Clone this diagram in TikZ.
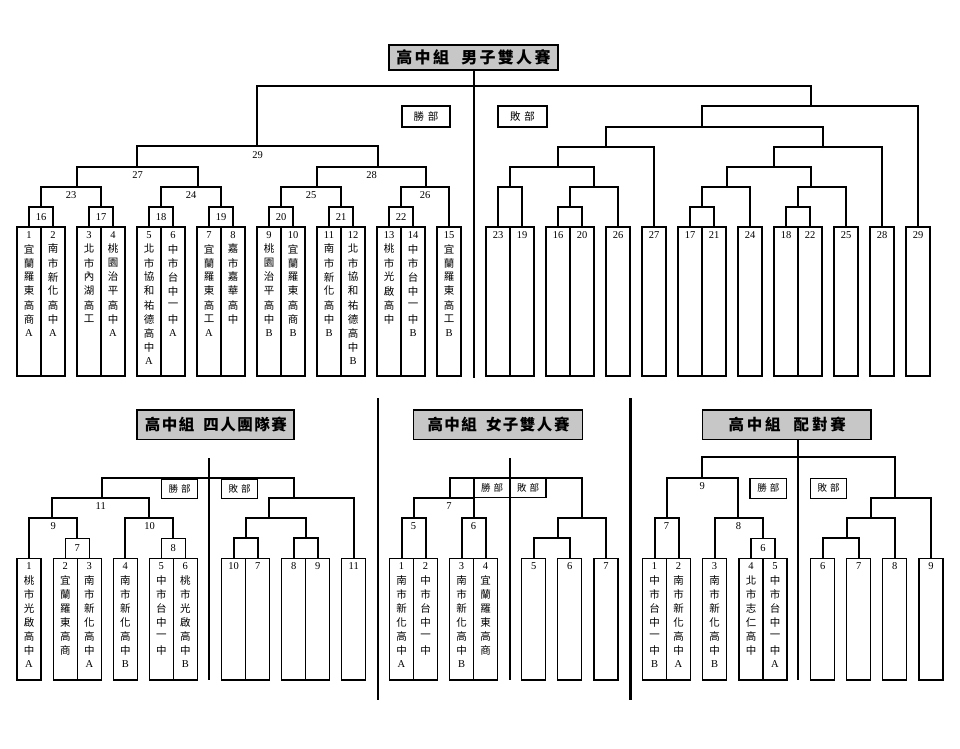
\documentclass[tikz,border=0pt]{standalone}
\usepackage{fontspec}
\setmainfont{Liberation Serif}
\newfontfamily\cjk{Noto Sans CJK TC}
\newcommand\LA{{\rmfamily A}}
\newcommand\LB{{\rmfamily B}}
\tikzset{
  br/.style={line width=2pt},
  sep/.style={line width=2.4pt},
  sbox/.style={line width=1.4pt},
  num/.style={font=\fontsize{10.5}{12}\selectfont, inner sep=0pt},
  vch/.style={font=\cjk\fontsize{10.5}{12}\selectfont, inner sep=0pt},
  ttlbox/.style={draw, line width=1.6pt, fill=black!22},
  ttltext/.style={font=\cjk\bfseries\fontsize{16}{18}\selectfont, inner sep=0pt},
  ttlsmall/.style={font=\cjk\bfseries\fontsize{15.5}{18}\selectfont, inner sep=0pt},
  tagbox/.style={draw, line width=1.4pt},
  tagtext/.style={font=\cjk\fontsize{10.5}{12}\selectfont, inner sep=0pt},
  tagsmall/.style={font=\cjk\fontsize{9.5}{11}\selectfont, inner sep=0pt},
}
\newcommand\seedbox[6]{%
  \draw[sbox] (#2,#3) rectangle (#2+24,#4);
  \node[num] (n#1) at (#2+12,#3+8) {#5};
  \foreach \c [count=\i] in {#6}{\node[vch] (c#1x\i) at (#2+12,#3+8+14*\i) {\c};}
}
\newcommand\lbox[5]{%
  \draw[sbox] (#2,#3) rectangle (#2+24,#4);
  \node[num] (n#1) at (#2+12,#3+8) {#5};
}
\newcommand\matchbox[4]{%
  \draw[sbox] (#2-12,#3) rectangle (#2+12,#3+20);
  \node[num] (m#1) at (#2,#3+10) {#4};
}
\newcommand\kk{\kern2.3pt}
\newcommand\ks{\kern1.5pt}
\newcommand\kp{\kern2.8pt}
\begin{document}
\begin{tikzpicture}[x=1pt,y=-1pt]
\fill[white] (0,0) rectangle (960,748);
\useasboundingbox (0,0) rectangle (960,748);

% ================= TOP: men's doubles =================
\draw[br] (474,70) -- (474,378);
\draw[br] (257,146) -- (257,86) -- (810.7,86) -- (810.7,106);
% winners
\draw[br] (137,167) -- (137,146) -- (378,146) -- (378,167);
\draw[br] (77,187) -- (77,167) -- (198,167) -- (198,187);
\draw[br] (317,187) -- (317,167) -- (426,167) -- (426,187);
\draw[br] (41,207) -- (41,187) -- (101,187) -- (101,207);
\draw[br] (161,207) -- (161,187) -- (221,187) -- (221,207);
\draw[br] (281,207) -- (281,187) -- (341,187) -- (341,207);
\draw[br] (401,207) -- (401,187) -- (449,187) -- (449,227);
\node[num] (l29) at (257.5,155) {29};
\node[num] (l27) at (137.5,175) {27};
\node[num] (l28) at (371.5,175) {28};
\node[num] (l23) at (71,195) {23};
\node[num] (l24) at (191,195) {24};
\node[num] (l25) at (311,195) {25};
\node[num] (l26) at (425,195) {26};
\matchbox{16}{41}{207}{16}
\matchbox{17}{101}{207}{17}
\matchbox{18}{161}{207}{18}
\matchbox{19}{221}{207}{19}
\matchbox{20}{281}{207}{20}
\matchbox{21}{341}{207}{21}
\matchbox{22}{401}{207}{22}
\seedbox{a1}{17}{227}{376}{1}{宜,蘭,羅,東,高,商,\LA}
\seedbox{a2}{41}{227}{376}{2}{南,市,新,化,高,中,\LA}
\seedbox{a3}{77}{227}{376}{3}{北,市,內,湖,高,工}
\seedbox{a4}{101}{227}{376}{4}{桃,園,治,平,高,中,\LA}
\seedbox{a5}{137}{227}{376}{5}{北,市,協,和,祐,德,高,中,\LA}
\seedbox{a6}{161}{227}{376}{6}{中,市,台,中,一,中,\LA}
\seedbox{a7}{197}{227}{376}{7}{宜,蘭,羅,東,高,工,\LA}
\seedbox{a8}{221}{227}{376}{8}{嘉,市,嘉,華,高,中}
\seedbox{a9}{257}{227}{376}{9}{桃,園,治,平,高,中,\LB}
\seedbox{a10}{281}{227}{376}{10}{宜,蘭,羅,東,高,商,\LB}
\seedbox{a11}{317}{227}{376}{11}{南,市,新,化,高,中,\LB}
\seedbox{a12}{341}{227}{376}{12}{北,市,協,和,祐,德,高,中,\LB}
\seedbox{a13}{377}{227}{376}{13}{桃,市,光,啟,高,中}
\seedbox{a14}{401}{227}{376}{14}{中,市,台,中,一,中,\LB}
\seedbox{a15}{437}{227}{376}{15}{宜,蘭,羅,東,高,工,\LB}
% losers
\draw[br] (498,227) -- (498,187) -- (522,187) -- (522,227);
\draw[br] (558,227) -- (558,207) -- (582,207) -- (582,227);
\draw[br] (570,207) -- (570,187) -- (618,187) -- (618,227);
\draw[br] (510,187) -- (510,167) -- (594,167) -- (594,187);
\draw[br] (558,167) -- (558,147) -- (654,147) -- (654,227);
\draw[br] (606,147) -- (606,127) -- (822.7,127) -- (822.7,147);
\draw[br] (690,227) -- (690,207) -- (714,207) -- (714,227);
\draw[br] (702,207) -- (702,187) -- (750,187) -- (750,227);
\draw[br] (786,227) -- (786,207) -- (810,207) -- (810,227);
\draw[br] (798,207) -- (798,187) -- (846,187) -- (846,227);
\draw[br] (726.7,187) -- (726.7,167) -- (810.7,167) -- (810.7,187);
\draw[br] (774.3,167) -- (774.3,147) -- (882,147) -- (882,227);
\draw[br] (702.3,127) -- (702.3,106) -- (918,106) -- (918,227);
\lbox{b23}{486}{227}{376}{23}
\lbox{b19}{510}{227}{376}{19}
\lbox{b16}{546}{227}{376}{16}
\lbox{b20}{570}{227}{376}{20}
\lbox{b26}{606}{227}{376}{26}
\lbox{b27}{642}{227}{376}{27}
\lbox{b17}{678}{227}{376}{17}
\lbox{b21}{702}{227}{376}{21}
\lbox{b24}{738}{227}{376}{24}
\lbox{b18}{774}{227}{376}{18}
\lbox{b22}{798}{227}{376}{22}
\lbox{b25}{834}{227}{376}{25}
\lbox{b28}{870}{227}{376}{28}
\lbox{b29}{906}{227}{376}{29}
% title and tags
\draw[ttlbox] (389,45) rectangle (558,70);
\node[ttltext] (t1) at (473.5,57.5) {高\kk 中\kk 組\hspace{12.3pt}男\kk 子\kk 雙\kk 人\kk 賽};
\draw[tagbox] (402,106) rectangle (450,127);
\node[tagtext] (w1) at (426,116.5) {勝\kern4pt 部};
\draw[tagbox] (498,106) rectangle (547,127);
\node[tagtext] (f1) at (522.5,116.5) {敗\kern4pt 部};

% ================= separators =================
\draw[sep] (378,398) -- (378,700);
\draw[sep] (630.5,398) -- (630.5,700);

% ================= team event =================
\draw[ttlbox] (137,410) rectangle (294,439.3);
\node[ttlsmall] (t2) at (215.8,424.7) {高\ks 中\ks 組\hspace{9pt}四\ks 人\ks 團\ks 隊\ks 賽};
\draw[br] (209.3,458.3) -- (209.3,680);
\draw[br] (29,558.3) -- (29,518.3) -- (77.3,518.3) -- (77.3,538.3);
\draw[br] (125.3,558.3) -- (125.3,518.3) -- (173.3,518.3) -- (173.3,538.3);
\draw[br] (52.3,518.3) -- (52.3,498.3) -- (149,498.3) -- (149,518.3);
\draw[br] (101.7,498.3) -- (101.7,477.7) -- (294,477.7) -- (294,498.3);
\draw[br] (269.3,518.3) -- (269.3,498.3) -- (353.7,498.3) -- (353.7,558.3);
\draw[br] (245.7,538.3) -- (245.7,518.3) -- (305.7,518.3) -- (305.7,538.3);
\draw[br] (233.7,558.3) -- (233.7,538.3) -- (257.7,538.3) -- (257.7,558.3);
\draw[br] (293.7,558.3) -- (293.7,538.3) -- (317.7,538.3) -- (317.7,558.3);
\node[num] (tl9) at (53.3,526.5) {9};
\node[num] (tl10) at (149.5,526.5) {10};
\node[num] (tl11) at (100.7,506.5) {11};
\matchbox{t7}{77.3}{538.3}{7}
\matchbox{t8}{173.3}{538.3}{8}
\seedbox{t1s}{17}{558.3}{680}{1}{桃,市,光,啟,高,中,\LA}
\seedbox{t2s}{53.3}{558.3}{680}{2}{宜,蘭,羅,東,高,商}
\seedbox{t3s}{77.3}{558.3}{680}{3}{南,市,新,化,高,中,\LA}
\seedbox{t4s}{113.3}{558.3}{680}{4}{南,市,新,化,高,中,\LB}
\seedbox{t5s}{149.3}{558.3}{680}{5}{中,市,台,中,一,中}
\seedbox{t6s}{173.3}{558.3}{680}{6}{桃,市,光,啟,高,中,\LB}
\lbox{tb10}{221.7}{558.3}{680}{10}
\lbox{tb7}{245.7}{558.3}{680}{7}
\lbox{tb8}{281.7}{558.3}{680}{8}
\lbox{tb9}{305.7}{558.3}{680}{9}
\lbox{tb11}{341.7}{558.3}{680}{11}
\draw[tagbox] (161.7,479) rectangle (197.7,498.3);
\node[tagsmall] (w2) at (179.7,488.7) {勝\kern3pt 部};
\draw[tagbox] (221.7,479) rectangle (257.7,498.3);
\node[tagsmall] (f2) at (239.7,488.7) {敗\kern3pt 部};

% ================= women's doubles =================
\draw[ttlbox] (413.3,410) rectangle (582.3,439.3);
\node[ttlsmall] (t3) at (498.5,424.7) {高\ks 中\ks 組\hspace{9pt}女\ks 子\ks 雙\ks 人\ks 賽};
\draw[br] (401.5,558.3) -- (401.5,518.3) -- (425.5,518.3) -- (425.5,558.3);
\draw[br] (461.5,558.3) -- (461.5,518.3) -- (485.5,518.3) -- (485.5,558.3);
\draw[br] (413.5,518.3) -- (413.5,498.3) -- (474,498.3) -- (474,518.3);
\draw[br] (450,498.3) -- (450,477.7) -- (581.7,477.7) -- (581.7,518.3);
\draw[br] (558.3,538.3) -- (558.3,518.3) -- (606,518.3) -- (606,558.3);
\draw[br] (533.7,558.3) -- (533.7,538.3) -- (569.7,538.3) -- (569.7,558.3);
\draw[tagbox] (474,477.7) rectangle (546,497.7);
\draw[br] (510,458.3) -- (510,680);
\node[tagsmall] (w3) at (492,487.9) {勝\kern3pt 部};
\node[tagsmall] (f3) at (528,487.9) {敗\kern3pt 部};
\node[num] (wl5) at (413.5,526.5) {5};
\node[num] (wl6) at (473.5,526.5) {6};
\node[num] (wl7) at (449,506.5) {7};
\seedbox{w1s}{389.5}{558.3}{680}{1}{南,市,新,化,高,中,\LA}
\seedbox{w2s}{413.5}{558.3}{680}{2}{中,市,台,中,一,中}
\seedbox{w3s}{449.5}{558.3}{680}{3}{南,市,新,化,高,中,\LB}
\seedbox{w4s}{473.5}{558.3}{680}{4}{宜,蘭,羅,東,高,商}
\lbox{wb5}{521.7}{558.3}{680}{5}
\lbox{wb6}{557.7}{558.3}{680}{6}
\lbox{wb7}{594}{558.3}{680}{7}

% ================= pairs =================
\draw[ttlbox] (702.3,410) rectangle (871,439.3);
\node[ttlsmall] (t4) at (787.2,424.7) {高\kp 中\kp 組\hspace{13pt}配\kp 對\kp 賽};
\draw[br] (798.3,439.3) -- (798.3,680);
\draw[br] (654.5,558.3) -- (654.5,518.3) -- (678.5,518.3) -- (678.5,558.3);
\draw[br] (714.5,558.3) -- (714.5,518.3) -- (763,518.3) -- (763,538.3);
\draw[br] (666.5,518.3) -- (666.5,478.3) -- (738.3,478.3) -- (738.3,518.3);
\draw[br] (702.3,478.3) -- (702.3,457.3) -- (895,457.3) -- (895,498.3);
\draw[br] (871,518.3) -- (871,498.3) -- (931,498.3) -- (931,558.3);
\draw[br] (846.7,538.3) -- (846.7,518.3) -- (894.7,518.3) -- (894.7,558.3);
\draw[br] (822.7,558.3) -- (822.7,538.3) -- (858.7,538.3) -- (858.7,558.3);
\node[num] (pl7) at (666.5,526.5) {7};
\node[num] (pl8) at (738.5,526.5) {8};
\node[num] (pl9) at (702.3,486.5) {9};
\matchbox{p6}{763}{538.3}{6}
\seedbox{p1s}{642.5}{558.3}{680}{1}{中,市,台,中,一,中,\LB}
\seedbox{p2s}{666.5}{558.3}{680}{2}{南,市,新,化,高,中,\LA}
\seedbox{p3s}{702.5}{558.3}{680}{3}{南,市,新,化,高,中,\LB}
\seedbox{p4s}{739}{558.3}{680}{4}{北,市,志,仁,高,中}
\seedbox{p5s}{763}{558.3}{680}{5}{中,市,台,中,一,中,\LA}
\lbox{pb6}{810.7}{558.3}{680}{6}
\lbox{pb7}{846.7}{558.3}{680}{7}
\lbox{pb8}{882.7}{558.3}{680}{8}
\lbox{pb9}{919}{558.3}{680}{9}
\draw[tagbox] (750,478.3) rectangle (786.7,498.3);
\node[tagsmall] (w4) at (768.3,488.3) {勝\kern3pt 部};
\draw[tagbox] (810.7,478.3) rectangle (846.7,498.3);
\node[tagsmall] (f4) at (828.7,488.3) {敗\kern3pt 部};
\end{tikzpicture}
\end{document}
